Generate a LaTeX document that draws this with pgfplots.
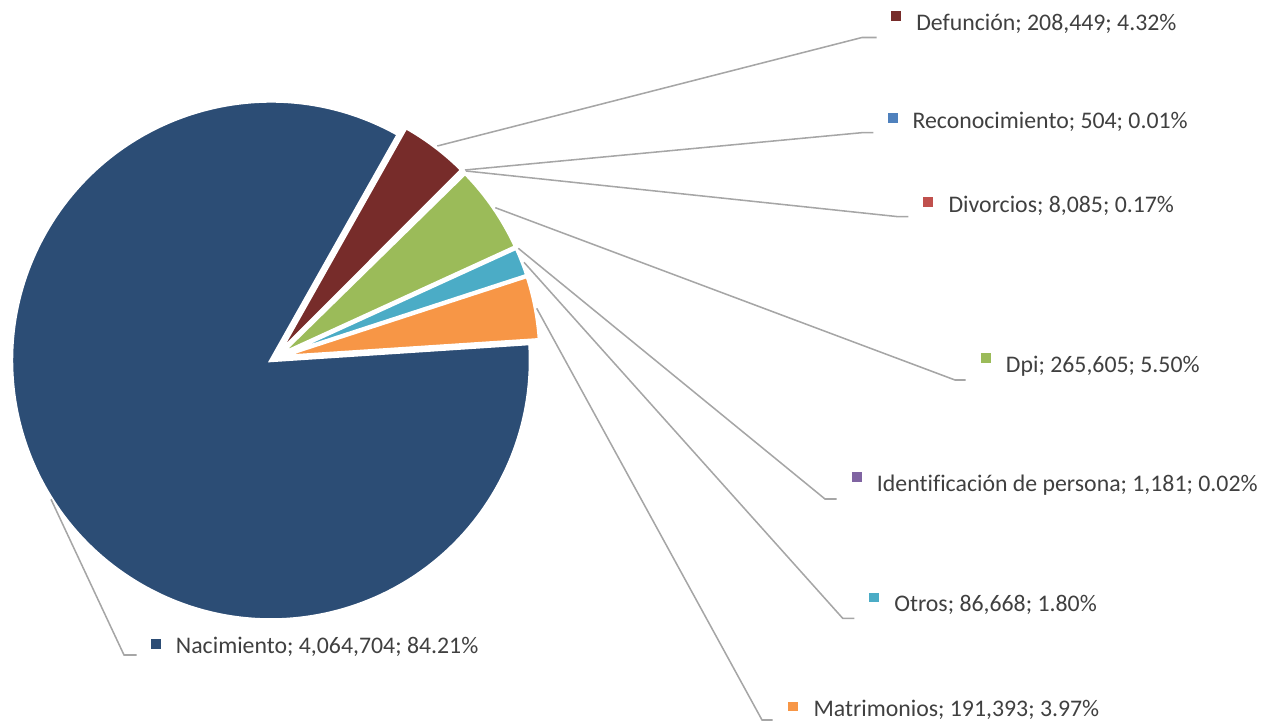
\documentclass[border=0pt]{standalone}
\usepackage{pgfplots}
\pgfplotsset{compat=1.18}
\usepackage{fontspec}
\setmainfont{Carlito}[Ligatures=CommonOff]
\definecolor{cNac}{HTML}{2C4D75}
\definecolor{cDef}{HTML}{772C2A}
\definecolor{cRec}{HTML}{4F81BD}
\definecolor{cDiv}{HTML}{C0504D}
\definecolor{cDpi}{HTML}{9BBB59}
\definecolor{cIde}{HTML}{8064A2}
\definecolor{cOtr}{HTML}{4BACC6}
\definecolor{cMat}{HTML}{F79646}
\definecolor{txt}{HTML}{404040}
\definecolor{lead}{HTML}{A6A6A6}

\newcommand{\pieCx}{275.4}
\newcommand{\pieCy}{364.3}
\newcommand{\pieR}{194.6pt}
\newcommand{\pieE}{5.2}
\xdef\curang{60.6}
% #1 = percentage of the slice, #2 = colour; slices run clockwise
\newcommand{\slice}[2]{%
  \pgfmathsetmacro\sweep{#1*3.6}%
  \pgfmathsetmacro\endang{\curang}%
  \pgfmathsetmacro\startang{\curang-\sweep}%
  \pgfmathsetmacro\midang{\curang-\sweep/2}%
  \pgfmathsetmacro\px{\pieCx+\pieE*cos(\midang)}%
  \pgfmathsetmacro\py{\pieCy+\pieE*sin(\midang)}%
  \edef\temp{\noexpand\filldraw[fill=#2,draw=white,line width=2.6pt]
    (axis cs:\px,\py) -- ++(\startang:\pieR)
    arc[start angle=\startang, end angle=\endang, radius=\pieR] -- cycle;}%
  \temp
  \xdef\curang{\startang}%
}
\newcommand{\lbl}[3]{\node[anchor=base west, inner sep=0pt, text=txt,
  font=\fontsize{17.85}{20}\selectfont] at (axis cs:#1,#2) {#3};}

\begin{document}
\begin{tikzpicture}
\begin{axis}[
  x=0.75pt, y=0.75pt,
  xmin=0, xmax=1266, ymin=0, ymax=722,
  hide axis, ticks=none, clip=false,
]
\coordinate (SW) at (axis cs:0,0);
\coordinate (NE) at (axis cs:1266,722);
% slices (percentages), clockwise from Defuncion
\slice{4.32}{cDef}
\slice{0.01}{cRec}
\slice{0.17}{cDiv}
\slice{5.50}{cDpi}
\slice{0.02}{cIde}
\slice{1.80}{cOtr}
\slice{3.97}{cMat}
\slice{84.21}{cNac}

% leader lines
\draw[lead, line width=1.15pt] (axis cs:437.3,576) -- (axis cs:862,684.5) -- (axis cs:876.7,684.5);
\draw[lead, line width=1.15pt] (axis cs:465,552) -- (axis cs:861.7,589.3) -- (axis cs:873.3,589.3);
\draw[lead, line width=1.15pt] (axis cs:466,551) -- (axis cs:898.3,505.3) -- (axis cs:908.3,505.3);
\draw[lead, line width=1.15pt] (axis cs:495.3,514.3) -- (axis cs:955,342) -- (axis cs:965.7,342);
\draw[lead, line width=1.15pt] (axis cs:518.3,473.7) -- (axis cs:825,223) -- (axis cs:836.7,223);
\draw[lead, line width=1.15pt] (axis cs:524,459.7) -- (axis cs:842.7,103.7) -- (axis cs:854.3,103.7);
\draw[lead, line width=1.15pt] (axis cs:536.7,413.7) -- (axis cs:762,2) -- (axis cs:772.7,2);
\draw[lead, line width=1.15pt] (axis cs:51,222.7) -- (axis cs:124,67) -- (axis cs:136.7,67);

% legend keys
\addplot[scatter, only marks, scatter src=explicit symbolic, mark size=3.3pt,
  scatter/classes={
    Def={mark=square*, fill=cDef, draw=cDef},
    Rec={mark=square*, fill=cRec, draw=cRec},
    Div={mark=square*, fill=cDiv, draw=cDiv},
    Dpi={mark=square*, fill=cDpi, draw=cDpi},
    Ide={mark=square*, fill=cIde, draw=cIde},
    Otr={mark=square*, fill=cOtr, draw=cOtr},
    Mat={mark=square*, fill=cMat, draw=cMat},
    Nac={mark=square*, fill=cNac, draw=cNac}}]
  table[meta=k] {
  x y k
  896 706.5 Def
  892.8 604.5 Rec
  928 520.5 Div
  985.5 364 Dpi
  856.7 245.3 Ide
  873.8 124.8 Otr
  792.8 15.8 Mat
  155.5 78.5 Nac
};

\lbl{916}{691}{Defunción; 208,449; 4.32\%}
\lbl{912.3}{593}{Reconocimiento; 504; 0.01\%}
\lbl{948.3}{509.7}{Divorcios; 8,085; 0.17\%}
\lbl{1005.7}{349.7}{Dpi; 265,605; 5.50\%}
\lbl{876.7}{230.3}{Identificación de persona; 1,181; 0.02\%}
\lbl{894}{110.3}{Otros; 86,668; 1.80\%}
\lbl{813.3}{5.3}{Matrimonios; 191,393; 3.97\%}
\lbl{175.7}{68.7}{Nacimiento; 4,064,704; 84.21\%}
\end{axis}
\pgfresetboundingbox
\useasboundingbox (SW) rectangle (NE);
\end{tikzpicture}
\end{document}
